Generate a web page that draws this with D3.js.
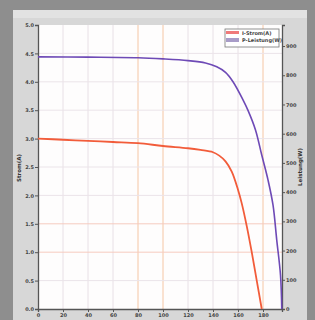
<!DOCTYPE html>
<html><head><meta charset="utf-8">
<script src="https://cdn.jsdelivr.net/npm/d3@7"></script>
<style>
html,body{margin:0;padding:0;background:#8e8e8e;}
svg{display:block;}
text{font-family:"DejaVu Sans",sans-serif;}
</style></head>
<body><svg id="c" width="315" height="320"></svg>
<script>
// Data
const xTicks = [0,20,40,60,80,100,120,140,160,180];
const leftTicks = [0,0.5,1.0,1.5,2.0,2.5,3.0,3.5,4.0,4.5,5.0];
const rightTicks = [0,100,200,300,400,500,600,700,800,900];
const seriesNames = ["I-Strom(A)","P-Leistung(W)"];
const redX = [0,20,40,60,80,100,120,130,140,145,150,155,160,163,167,171,175,179];
const redY = [3.00,2.98,2.96,2.94,2.92,2.87,2.83,2.80,2.76,2.70,2.60,2.42,2.10,1.86,1.46,1.00,0.50,0.0];
const purX = [0,40,80,100,120,134,143,150,156,164,168,174,179,184,188,191,194,195];
const purY = [863,862,860,856,850,842,829,810,778,716,680,613,527,442,356,236,116,0];
const leftTitle = "Strom(A)";
const rightTitle = "Leistung(W)";

const svg = d3.select("#c");
// panel
svg.append("rect").attr("x",13).attr("y",10).attr("width",294).attr("height",312).attr("fill","#d7d7d7");
svg.append("rect").attr("x",13).attr("y",10).attr("width",294).attr("height",8).attr("fill","#e2e2e2");

const L=38,R=282,T=25,B=309;
const x = d3.scaleLinear().domain([0,195.2]).range([L,R]);
const yL = d3.scaleLinear().domain([0,5]).range([B,T]);
const yR = d3.scaleLinear().domain([0,972]).range([B,T]);

svg.append("rect").attr("x",L).attr("y",T).attr("width",R-L).attr("height",B-T).attr("fill","#fefdfd");

// grid
const hot = new Set([80,100,180]);
svg.append("g").selectAll("line").data(xTicks.slice(1)).join("line")
  .attr("x1",d=>x(d)).attr("x2",d=>x(d)).attr("y1",T).attr("y2",B)
  .attr("stroke",d=>hot.has(d)?"#f5c6a4":"#e8e0e6").attr("stroke-width",1);
const hotY = new Set([1.0,1.5]);
svg.append("g").selectAll("line").data(leftTicks.slice(1,-1)).join("line")
  .attr("x1",L).attr("x2",R).attr("y1",d=>yL(d)).attr("y2",d=>yL(d))
  .attr("stroke",d=>hotY.has(d)?"#f6cbbf":"#ebe4e9").attr("stroke-width",1);

// axes
const fmtL = d=>d.toFixed(1);
const gl = svg.append("g").attr("transform",`translate(${L},0)`)
  .call(d3.axisLeft(yL).tickValues(leftTicks).tickFormat(fmtL).tickSize(3).tickPadding(1));
const gr = svg.append("g").attr("transform",`translate(${R},0)`)
  .call(d3.axisRight(yR).tickValues(rightTicks).tickSize(3).tickPadding(1));
const gb = svg.append("g").attr("transform",`translate(0,${B})`)
  .call(d3.axisBottom(x).tickValues(xTicks).tickSize(3).tickPadding(1));
[gl,gr,gb].forEach(g=>{
  g.selectAll("path").attr("stroke","#555").attr("stroke-width",1.3);
  g.selectAll("line").attr("stroke","#555");
  g.selectAll("text").attr("font-size",5).attr("font-weight","bold").attr("fill","#444");
});

// curves
const lineL = d3.line().x(d=>x(d[0])).y(d=>yL(d[1])).curve(d3.curveCatmullRom.alpha(0.5));
const lineR = d3.line().x(d=>x(d[0])).y(d=>yR(d[1])).curve(d3.curveCatmullRom.alpha(0.5));
svg.append("path").datum(redX.map((v,i)=>[v,redY[i]])).attr("d",lineL)
  .attr("fill","none").attr("stroke","#f25c3a").attr("stroke-width",1.8);
svg.append("path").datum(purX.map((v,i)=>[v,purY[i]])).attr("d",lineR)
  .attr("fill","none").attr("stroke","#6e4ab6").attr("stroke-width",1.6);

// axis titles
svg.append("text").attr("transform","translate(21,168) rotate(-90)").attr("text-anchor","middle")
  .attr("font-size",5.5).attr("font-weight","bold").attr("fill","#333").text(leftTitle);
svg.append("text").attr("transform","translate(302,167) rotate(-90)").attr("text-anchor","middle")
  .attr("font-size",5.5).attr("font-weight","bold").attr("fill","#333").text(rightTitle);

// legend
const lg = svg.append("g").attr("transform","translate(225,29)");
lg.append("rect").attr("width",54).attr("height",18).attr("fill","#fff").attr("stroke","#777").attr("stroke-width",0.8);
const lc = ["#f07a7a","#a89cc8"];
seriesNames.forEach((n,i)=>{
  lg.append("rect").attr("x",1).attr("y",2+i*7).attr("width",13).attr("height",i?4:3).attr("fill",lc[i]);
  lg.append("text").attr("x",17).attr("y",6+i*7).attr("font-size",5).attr("font-weight","bold").attr("fill","#444").text(n);
});
</script></body></html>
